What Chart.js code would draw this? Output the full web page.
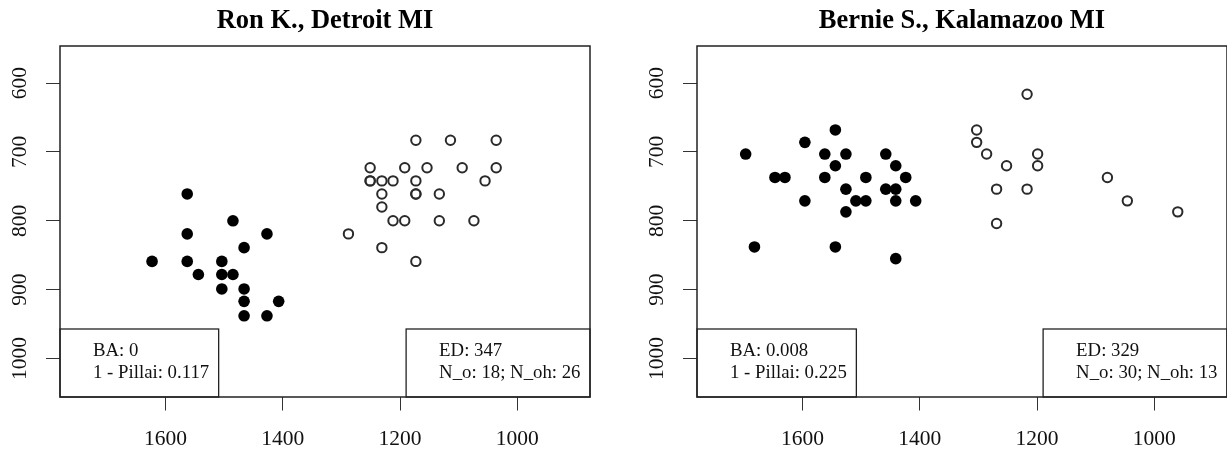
<!DOCTYPE html>
<html><head><meta charset="utf-8">
<script src="https://cdn.jsdelivr.net/npm/chart.js@4.4.0/dist/chart.umd.min.js"></script>
<style>
html,body{margin:0;padding:0;background:#fff;overflow:hidden}
#wrap{position:relative;width:1227px;height:451px;overflow:hidden;background:#fff}
canvas{position:absolute;top:0}
</style></head><body>
<div id="wrap">
<canvas id="c1" width="613" height="451" style="left:0px"></canvas>
<canvas id="c2" width="613" height="451" style="left:637px"></canvas>
</div>
<script>
// ---- data ----
const xTicks = [1600, 1400, 1200, 1000];
const yTicks = [600, 700, 800, 900, 1000];

const titleRon = "Ron K., Detroit MI";
const ronOX = [1563,1485,1563,1427,1466,1623,1563,1504,1544,1504,1485,1504,1466,1466,1407,1466,1427];
const ronOY = [761,800,819,819,839,859,859,859,878,878,878,899,899,917,917,938,938];
const ronOhX = [1173,1114,1036,1251,1192,1154,1094,1036,1251,1251,1231,1212,1173,1055,1231,1173,1173,1133,1231,1212,1192,1133,1074,1288,1231,1173];
const ronOhY = [683,683,683,723,723,723,723,723,742,742,742,742,742,742,761,761,761,761,780,800,800,800,800,819,839,859];
const ronLegLeft = ["BA: 0", "1 - Pillai: 0.117"];
const ronLegRight = ["ED: 347", "N_o: 18; N_oh: 26"];

const titleBernie = "Bernie S., Kalamazoo MI";
const bernieOX = [1544,1596,1697,1562,1526,1458,1544,1441,1647,1630,1562,1492,1424,1526,1458,1441,1596,1509,1492,1441,1407,1526,1682,1544,1441];
const bernieOY = [668,686,703,703,703,703,720,720,737,737,737,737,737,754,754,754,771,771,771,771,771,787,838,838,855];
const bernieOhX = [1217,1303,1303,1286,1199,1252,1199,1080,1269,1217,1046,960,1269];
const bernieOhY = [616,668,686,703,703,720,720,737,754,754,771,787,804];
const bernieLegLeft = ["BA: 0.008", "1 - Pillai: 0.225"];
const bernieLegRight = ["ED: 329", "N_o: 30; N_oh: 13"];

// ---- chart ----
const SERIF = "'Liberation Serif', 'Times New Roman', serif";
Chart.defaults.font.family = SERIF;
Chart.defaults.color = '#111';

function pts(xs, ys){ return xs.map((x,i)=>({x:x, y:ys[i]})); }

function legendBox(ctx, area, lines, side){
  ctx.save();
  ctx.font = '18.8px ' + SERIF;
  const tw = Math.max.apply(null, lines.map(t=>ctx.measureText(t).width));
  const w = tw + 33 + 9.5, h = 68;
  const x = side === 'left' ? area.left : area.right - w;
  const y = area.bottom - h;
  ctx.fillStyle = '#fff'; ctx.fillRect(x, y, w, h);
  ctx.strokeStyle = '#222'; ctx.lineWidth = 1.3; ctx.strokeRect(x, y, w, h);
  ctx.fillStyle = '#111'; ctx.textAlign = 'left'; ctx.textBaseline = 'middle';
  ctx.fillText(lines[0], x + 33, area.bottom - 45.6);
  ctx.fillText(lines[1], x + 33, area.bottom - 24);
  ctx.restore();
}

function makeChart(id, title, oX, oY, ohX, ohY, legL, legR){
  const deco = {
    id: 'deco',
    afterDatasetsDraw(chart){
      const ctx = chart.ctx, a = chart.chartArea;
      legendBox(ctx, a, legL, 'left');
      legendBox(ctx, a, legR, 'right');
      ctx.save();
      ctx.strokeStyle = '#222'; ctx.lineWidth = 1.5;
      ctx.strokeRect(a.left, a.top, a.right - a.left, a.bottom - a.top);
      // rotated y tick labels (R style, parallel to axis)
      const ys = chart.scales.y;
      ctx.fillStyle = '#111';
      ctx.font = '21.5px ' + SERIF;
      ctx.textAlign = 'center'; ctx.textBaseline = 'middle';
      yTicks.forEach(v=>{
        const py = ys.getPixelForValue(v);
        ctx.save();
        ctx.translate(a.left - 40, py);
        ctx.rotate(-Math.PI/2);
        ctx.fillText(String(v), 0, 0);
        ctx.restore();
      });
      ctx.restore();
    }
  };
  return new Chart(document.getElementById(id), {
    type: 'scatter',
    data: { datasets: [
      { label: 'o', data: pts(oX, oY), pointStyle: 'circle', pointRadius: 5.8, pointBorderWidth: 0,
        backgroundColor: '#000', borderColor: '#000' },
      { label: 'oh', data: pts(ohX, ohY), pointStyle: 'circle', pointRadius: 4.7, pointBorderWidth: 2,
        backgroundColor: 'rgba(0,0,0,0)', borderColor: '#2a2a2a' }
    ]},
    options: {
      responsive: false, animation: false, devicePixelRatio: 1,
      events: [],
      layout: { padding: { left: 60, right: 23, top: 0, bottom: 0 } },
      plugins: {
        legend: { display: false }, tooltip: { enabled: false },
        title: { display: true, text: title, color: '#000',
          font: { family: SERIF, size: 26.5, weight: 'bold', lineHeight: 1 },
          padding: { top: 8.2, bottom: 11.3 } }
      },
      scales: {
        x: { type: 'linear', min: 876, max: 1780, reverse: true,
          border: { display: false },
          grid: { drawOnChartArea: false, drawTicks: true, tickLength: 13.5, color: '#333', lineWidth: 1 },
          ticks: { autoSkip: false, maxRotation: 0, minRotation: 0, padding: 16,
            font: { family: SERIF, size: 21.5 }, color: '#111',
            callback: v => String(v) },
          afterBuildTicks(s){ s.ticks = xTicks.map(v=>({value: v})); },
          afterFit(s){ s.height = 54; }
        },
        y: { type: 'linear', min: 546, max: 1056, reverse: true,
          border: { display: false },
          grid: { drawOnChartArea: false, drawTicks: true, tickLength: 14, color: '#333', lineWidth: 1 },
          ticks: { display: false },
          afterBuildTicks(s){ s.ticks = yTicks.map(v=>({value: v})); },
          afterFit(s){ s.width = 0; }
        }
      }
    },
    plugins: [deco]
  });
}

makeChart('c1', titleRon, ronOX, ronOY, ronOhX, ronOhY, ronLegLeft, ronLegRight);
makeChart('c2', titleBernie, bernieOX, bernieOY, bernieOhX, bernieOhY, bernieLegLeft, bernieLegRight);
</script>
</body></html>
